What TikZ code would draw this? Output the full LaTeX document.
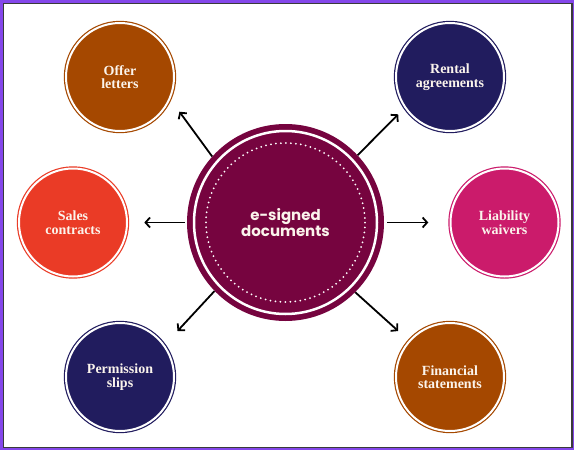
\documentclass[tikz,border=0pt]{standalone}
\usepackage{fontspec}
\newfontfamily\bubfont{Liberation Serif}
\newfontfamily\popfont{Poppins}
\usetikzlibrary{arrows.meta}
\definecolor{framepurple}{HTML}{8447EA}
\definecolor{framegray}{HTML}{3A3A3A}
\definecolor{cmaroon}{HTML}{76043F}
\definecolor{cbrown}{HTML}{A54800}
\definecolor{cnavy}{HTML}{211C5E}
\definecolor{cred}{HTML}{EA3B26}
\definecolor{cpink}{HTML}{CB1B6B}
\definecolor{ctext}{HTML}{FBF4EC}
\tikzset{
  bubble/.style={circle, fill=#1, draw=#1, double=white, double distance=2pt,
    line width=1.2pt, minimum size=108pt, inner sep=0pt, text=ctext, align=center,
    font=\bubfont\bfseries\fontsize{14}{13.5}\selectfont},
  arr/.style={-{Straight Barb[length=4.5pt,width=10pt]}, line width=1.8pt, black},
}
\begin{document}
\begin{tikzpicture}[x=1pt,y=-1pt]
\useasboundingbox (0,0) rectangle (574,450);
\fill[framepurple] (0,0) rectangle (574,450);
\fill[framegray] (2.5,2.5) rectangle (572.6,448.4);
\fill[white] (3.7,3.7) rectangle (571.3,446.7);

\node[circle, fill=cmaroon, minimum size=197pt, inner sep=0pt, text=ctext, align=center,
  font=\popfont\bfseries\fontsize{15}{16.5}\selectfont] (c) at (285.5,222.5) {e-signed\\documents};
\draw[white, line width=2.5pt] (c.center) circle[radius=91.5];
\draw[white, line width=2pt, dash pattern=on 0pt off 5pt, line cap=round] (c.center) circle[radius=79.5];

\node[bubble=cbrown] (offer) at (120,77) {Offer\\letters};
\node[bubble=cnavy] (rental) at (450,77) {Rental\\agreements};
\node[bubble=cred] (sales) at (73,222.5) {Sales\\contracts};
\node[bubble=cpink] (liab) at (504.5,222.5) {Liability\\waivers};
\node[bubble=cnavy] (perm) at (120,377) {Permission\\slips};
\node[bubble=cbrown] (fin) at (450,377) {Financial\\statements};

\coordinate (eoffer) at (179.4,111.7);
\coordinate (erental) at (398.2,114.3);
\coordinate (esales) at (144.3,222.5);
\coordinate (eliab) at (428.3,222.5);
\coordinate (eperm) at (177.5,331);
\coordinate (efin) at (398.2,331);

\draw[arr] (c.138) -- (eoffer);
\draw[arr] (c.43) -- (erental);
\draw[arr] ([xshift=-2pt]c.180) -- (esales);
\draw[arr] ([xshift=3pt]c.0) -- (eliab);
\draw[arr] (c.224) -- (eperm);
\draw[arr] (c.315) -- (efin);
\end{tikzpicture}
\end{document}
